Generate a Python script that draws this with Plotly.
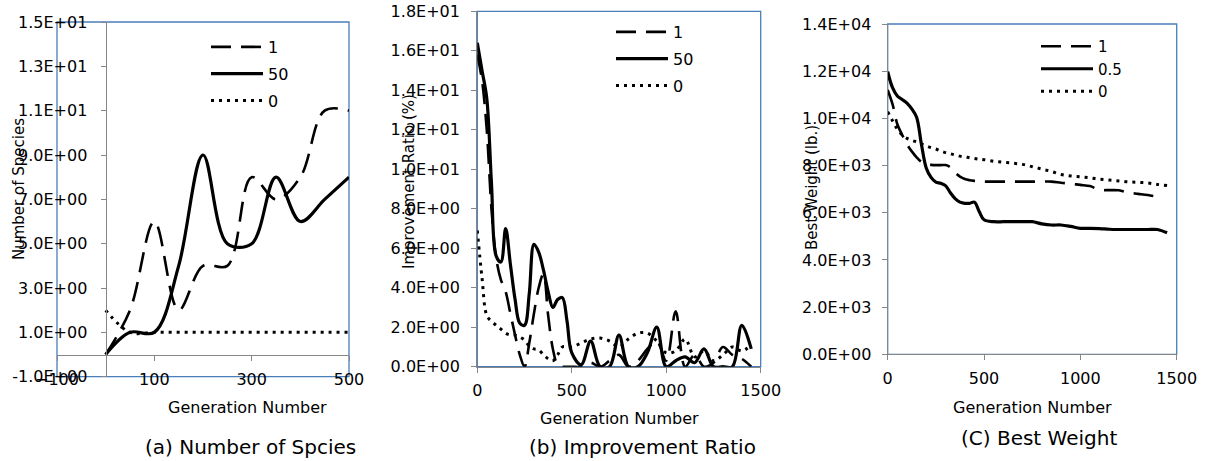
import plotly.graph_objects as go

W, H = 1208, 461
GRAY = '#868686'
BLUE = '#4A7EBB'
FONT = 'DejaVu Sans'

# (a) number of species
gen_a = [0, 50, 100, 150, 200, 250, 300, 350, 400, 450, 500]
sp_1 = [0, 2, 6, 2, 4, 4, 8, 7, 8, 11, 11]
sp_50 = [0, 1, 1, 4, 9, 5, 5, 8, 6, 7, 8]
sp_0 = [2, 1, 1, 1, 1, 1, 1, 1, 1, 1, 1]

# (b) improvement ratio (%)
gen_b = [0, 25, 50, 75, 100, 125, 150, 175, 200, 225, 250, 275, 300, 325, 350, 375, 400, 425, 450, 475, 500,
         550, 600, 650, 700, 750, 800, 850, 900, 950, 1000, 1050, 1100, 1150, 1200, 1250, 1300, 1350, 1400, 1450]
ir_1 = [15.8, 14.5, 12.0, 8.0, 5.5, 4.4, 3.8, 2.7, 1.6, 0.6, 0.0, 1.2, 2.7, 4.0, 4.7, 2.6, 0.9, 0.1, 0.0, 0.0, 0.0,
        0.0, 0.2, 0.0, 0.3, 0.6, 0.0, 0.3, 0.9, 1.3, 0.3, 2.8, 0.0, 0.6, 0.0, 0.2, 1.0, 0.6, 0.4, 0.0]
ir_50 = [16.4, 15.0, 13.6, 9.3, 5.6, 5.3, 7.0, 5.2, 3.4, 2.2, 2.1, 3.7, 6.2, 5.8, 4.9, 3.8, 3.0, 3.4, 3.5, 2.3, 0.7,
         0.1, 1.3, 0.0, 0.0, 1.6, 0.0, 0.0, 0.7, 2.0, 0.0, 0.3, 0.5, 0.2, 0.9, 0.0, 0.0, 0.0, 2.1, 0.9]
ir_0 = [6.9, 4.5, 2.6, 2.3, 2.1, 1.9, 1.7, 1.6, 1.6, 1.5, 1.35, 1.05, 0.9, 0.85, 0.6, 0.4, 0.3, 0.6, 1.0, 1.0, 1.0,
        1.2, 1.4, 1.45, 1.3, 1.0, 1.4, 1.7, 1.7, 1.3, 0.7, 0.8, 1.4, 0.5, 0.8, 0.3, 0.6, 1.0, 0.8, 1.1]

# (c) best weight (lb.)
gen_c = gen_b
bw_1 = [11200, 10600, 9750, 9300, 8900, 8600, 8350, 8150, 8050, 8030, 8020, 8020, 8020, 7930, 7700, 7530, 7430, 7380, 7350, 7330, 7320,
        7320, 7320, 7320, 7320, 7320, 7320, 7320, 7270, 7230, 7180, 7130, 6970, 6960, 6950, 6850, 6800, 6750, 6680, None]
bw_05 = [11980, 11300, 10950, 10800, 10650, 10400, 10050, 8900, 7900, 7500, 7300, 7250, 7150, 6850, 6600, 6450, 6400, 6400, 6450, 6050, 5700,
         5620, 5620, 5620, 5620, 5620, 5530, 5480, 5480, 5420, 5340, 5340, 5330, 5300, 5290, 5290, 5290, 5290, 5290, 5150]
bw_0 = [10280, 9900, 9550, 9300, 9150, 9070, 9000, 8920, 8830, 8760, 8700, 8620, 8550, 8500, 8450, 8400, 8370, 8330, 8300, 8270, 8250,
        8180, 8140, 8100, 8050, 7950, 7850, 7750, 7620, 7560, 7520, 7480, 7420, 7390, 7350, 7310, 7290, 7260, 7200, 7150]

ticks_a = [-1, 1, 3, 5, 7, 9, 11, 13, 15]
ticks_b = [0, 2, 4, 6, 8, 10, 12, 14, 16, 18]
ticks_c = [0, 2000, 4000, 6000, 8000, 10000, 12000, 14000]
xticks_a = [-100, 100, 300, 500]
xticks_bc = [0, 500, 1000, 1500]


def sci(vals):
    return [f'{v:.1E}' for v in vals]


def px_x(p):
    return p / W


def px_y(p):
    return 1 - p / H


styles = {
    'dash': dict(color='black', width=2.6, dash='20px,10px'),
    'solid': dict(color='black', width=3.2),
    'dot': dict(color='black', width=3, dash='3px,5px'),
}

fig = go.Figure()

panels = [
    ('x', 'y', 'legend', gen_a, [('1', sp_1, 'dash'), ('50', sp_50, 'solid'), ('0', sp_0, 'dot')]),
    ('x2', 'y2', 'legend2', gen_b, [('1', ir_1, 'dash'), ('50', ir_50, 'solid'), ('0', ir_0, 'dot')]),
    ('x3', 'y3', 'legend3', gen_c, [('1', bw_1, 'dash'), ('0.5', bw_05, 'solid'), ('0', bw_0, 'dot')]),
]
for xa, ya, lg, gens, series in panels:
    for name, vals, st in series:
        fig.add_trace(go.Scatter(
            x=gens, y=vals, name=name, mode='lines',
            line=dict(shape='spline', smoothing=1, **styles[st]),
            xaxis=xa, yaxis=ya, legend=lg, legendgroup=lg + name,
            hoverinfo='skip'))

ax = dict(showgrid=False, zeroline=False, showline=True, linecolor=GRAY, linewidth=1.3,
          ticks='outside', ticklen=5, tickcolor=GRAY, tickwidth=1.3, automargin=False,
          ticklabeloverflow='allow', tickfont=dict(family=FONT, size=16, color='black'))

# panel (a): plot area 57..349 x 22..377, axes cross at (0, 0)
a_l, a_r, a_t, a_b = 57, 349, 22, 376.7
a_xr, a_yr = [-100, 500], [-1, 15]
a_x0 = a_l + (0 - a_xr[0]) / (a_xr[1] - a_xr[0]) * (a_r - a_l)
a_y0 = a_b - (0 - a_yr[0]) / (a_yr[1] - a_yr[0]) * (a_b - a_t)

fig.update_layout(
    xaxis=dict(ax, domain=[px_x(a_l), px_x(a_r)], range=a_xr, tickvals=xticks_a,
               anchor='free', position=px_y(a_y0), ticklabelstandoff=5),
    yaxis=dict(ax, domain=[px_y(a_b), px_y(a_t)], range=a_yr, tickvals=ticks_a, ticktext=sci(ticks_a),
               anchor='free', position=px_x(a_x0), ticklabelstandoff=10),
    xaxis2=dict(ax, domain=[px_x(477.3), px_x(760.7)], range=[0, 1500], tickvals=xticks_bc,
                anchor='y2', ticklabelstandoff=4),
    yaxis2=dict(ax, domain=[px_y(366.7), px_y(11.3)], range=[0, 18], tickvals=ticks_b, ticktext=sci(ticks_b),
                anchor='x2', ticklabelstandoff=8),
    xaxis3=dict(ax, domain=[px_x(887.7), px_x(1176.7)], range=[0, 1500], tickvals=xticks_bc,
                anchor='y3', ticklabelstandoff=4),
    yaxis3=dict(ax, domain=[px_y(354.3), px_y(24)], range=[0, 14000], tickvals=ticks_c, ticktext=sci(ticks_c),
                anchor='x3', ticklabelstandoff=7),
)

leg = dict(bgcolor='rgba(0,0,0,0)', font=dict(family=FONT, size=16, color='black'),
           xanchor='left', yanchor='top', itemwidth=52, itemclick=False)
fig.update_layout(
    legend=dict(leg, x=px_x(206), y=px_y(30), tracegroupgap=3),
    legend2=dict(leg, x=px_x(611), y=px_y(15), tracegroupgap=3),
    legend3=dict(leg, x=px_x(1036), y=px_y(30), tracegroupgap=0, font=dict(family=FONT, size=15, color='black')),
)

# blue plot-area borders
for xa, ya in [('x', 'y'), ('x2', 'y2'), ('x3', 'y3')]:
    fig.add_shape(type='rect', xref=xa + ' domain', yref=ya + ' domain', x0=0, x1=1, y0=0, y1=1,
                  line=dict(color=BLUE, width=1.3), layer='below')

texts = [
    ('Number of Species', 19, 189, -90, 15),
    ('Improvement Ratio (%)', 409, 182, -90, 15),
    ('Best Weight (lb.)', 812, 188, -90, 15),
    ('Generation Number', 247, 407, 0, 16),
    ('Generation Number', 619, 418, 0, 16),
    ('Generation Number', 1032, 407, 0, 16),
    ('(a) Number of Spcies', 250, 447, 0, 20),
    ('(b) Improvement Ratio', 642, 447, 0, 20),
    ('(C) Best Weight', 1039, 438, 0, 20),
]
for t, x, y, ang, sz in texts:
    fig.add_annotation(text=t, x=px_x(x), y=px_y(y), xref='paper', yref='paper', showarrow=False,
                       textangle=ang, xanchor='center', yanchor='middle',
                       font=dict(family=FONT, size=sz, color='black'))

fig.update_layout(width=W, height=H, autosize=False, margin=dict(l=0, r=0, t=0, b=0),
                  paper_bgcolor='white', plot_bgcolor='white', showlegend=True)

# drop the default page margin so the figure sits at the window's corner
fig.write_html('out.html', config={'displayModeBar': False},
               post_script="document.body.style.margin='0px';")
